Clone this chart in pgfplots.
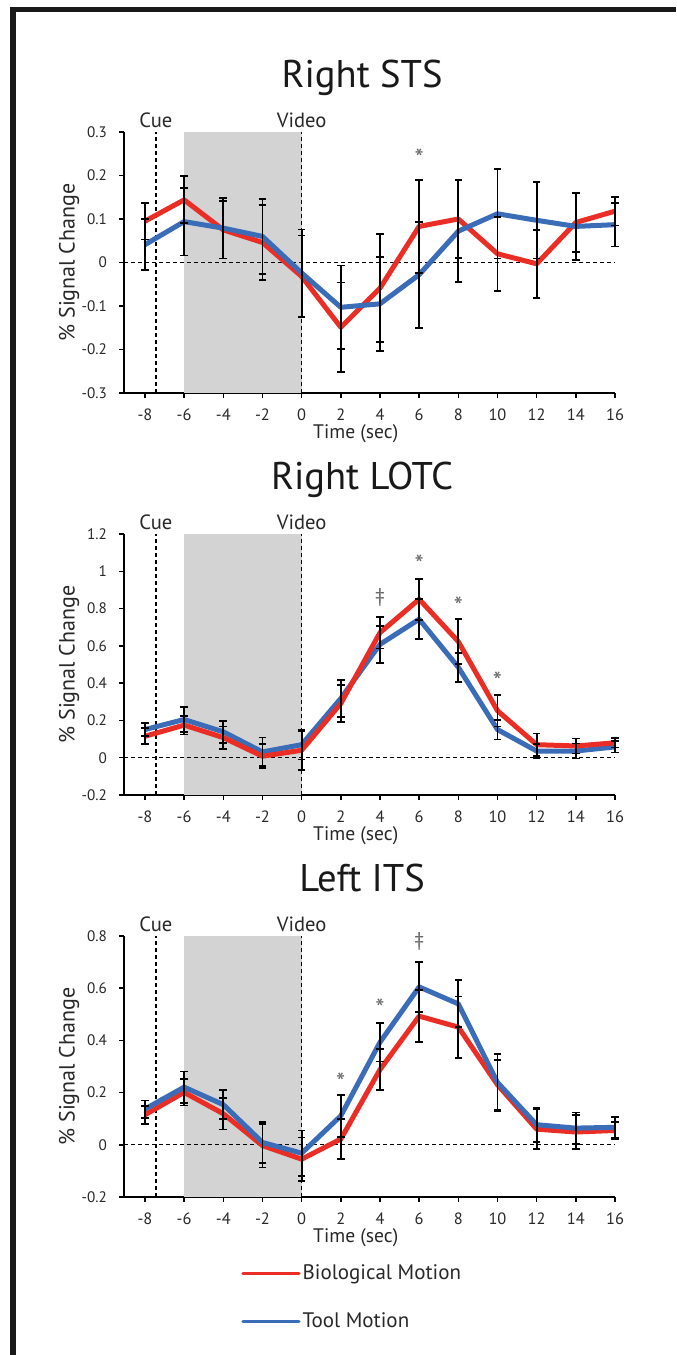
\documentclass[border=0pt]{standalone}
\usepackage{fontspec}
\setmainfont{PT Sans}
\usepackage{pgfplots}
\usepackage{pgfplotstable}
\pgfplotsset{compat=1.18}

\definecolor{bio}{RGB}{234,46,38}
\definecolor{tool}{RGB}{58,108,184}
\definecolor{shade}{RGB}{211,211,211}
\definecolor{ink}{RGB}{40,40,40}

% x = time, b/be = biological motion mean/error, t/te = tool motion mean/error
\pgfplotstableread{
x   b      be     t      te
-8  0.095  0.042  0.041  0.059
-6  0.144  0.054  0.094  0.078
-4  0.075  0.066  0.079  0.070
-2  0.046  0.087  0.060  0.086
0   -0.032 0.094  -0.024 0.100
2   -0.149 0.103  -0.103 0.096
4   -0.059 0.124  -0.095 0.108
6   0.083  0.107  -0.028 0.122
8   0.100  0.089  0.072  0.117
10  0.020  0.085  0.112  0.103
12  -0.003 0.078  0.097  0.088
14  0.092  0.068  0.083  0.078
16  0.118  0.033  0.087  0.050
}\sts

\pgfplotstableread{
x   b      be     t      te
-8  0.115  0.043  0.151  0.036
-6  0.175  0.050  0.205  0.065
-4  0.108  0.060  0.139  0.060
-2  0.008  0.065  0.031  0.077
0   0.040  0.105  0.070  0.080
2   0.291  0.100  0.318  0.100
4   0.671  0.085  0.608  0.100
6   0.850  0.110  0.743  0.108
8   0.623  0.120  0.485  0.078
10  0.252  0.084  0.151  0.053
12  0.070  0.060  0.036  0.036
14  0.063  0.040  0.036  0.040
16  0.080  0.025  0.058  0.030
}\lotc

\pgfplotstableread{
x   b      be     t      te
-8  0.115  0.035  0.137  0.033
-6  0.201  0.050  0.221  0.060
-4  0.119  0.060  0.154  0.055
-2  -0.003 0.084  0.009  0.078
0   -0.055 0.083  -0.032 0.087
2   0.022  0.076  0.111  0.081
4   0.288  0.079  0.393  0.074
6   0.493  0.100  0.605  0.096
8   0.451  0.117  0.540  0.090
10  0.230  0.095  0.239  0.110
12  0.060  0.075  0.077  0.065
14  0.049  0.065  0.064  0.060
16  0.055  0.033  0.067  0.040
}\its

\pgfplotsset{
  roi/.style={
    scale only axis, width=245.5pt, height=130.5pt,
    xmin=-9.07, xmax=16,
    axis x line*=bottom, axis y line*=left,
    axis line style={black, line width=0.75pt},
    xtick={-8,-6,...,16},
    tick align=outside, major tick length=2.5pt,
    tick style={black, line width=0.75pt},
    /pgf/number format/assume math mode=true,
    xticklabel style={font=\fontsize{8.2}{9}\selectfont, text=ink, inner sep=0.8pt, yshift=-4.3pt},
    yticklabel style={font=\fontsize{7.6}{8}\selectfont, text=ink, xshift=-2.5pt},
    xlabel={Time (sec)}, ylabel={\% Signal Change},
    xlabel style={font=\fontsize{9.8}{11}\selectfont, text=ink, inner sep=0pt, at={(axis description cs:0.472,0)}, anchor=base, yshift=-22.5pt},
    ylabel style={font=\fontsize{11}{12}\selectfont, text=ink, at={(axis description cs:-0.112,0.5)}, anchor=center},
    title style={font=\fontsize{19.3}{22}\selectfont, text=black!90, at={(axis description cs:0.485,1)}, anchor=base, yshift=16.5pt},
    clip=false,
  },
  dashline/.style={forget plot, black, line width=0.6pt, dash pattern=on 2pt off 1.5pt},
  bioline/.style={color=bio, line width=2.5pt, line join=round, mark=none},
  toolline/.style={color=tool, line width=2.5pt, line join=round, mark=none},
  errs/.style={forget plot, draw=none, mark=none,
    error bars/.cd, y dir=both, y explicit,
    error bar style={draw=black, line width=0.9pt},
    error mark options={rotate=90, draw=black, mark size=1.9pt, line width=0.9pt}},
}
\tikzset{
  lbl/.style={font=\fontsize{10.3}{11}\selectfont, text=ink, anchor=base, yshift=2.5pt},
  sig/.style={font=\fontsize{13}{14}\selectfont, text=black!60, anchor=base, yshift=-6pt},
  dag/.style={font=\fontsize{10}{11}\selectfont, text=black!60, anchor=base, yshift=-3.5pt},
}

\begin{document}
\begin{tikzpicture}
\useasboundingbox (0,0) rectangle (338pt,-677.5pt);
\fill[black!90] (5pt,-3.5pt) rectangle (338pt,-6pt);
\fill[black!90] (5pt,-3.5pt) rectangle (8pt,-677.5pt);

% ---------- Right STS ----------
\begin{axis}[roi, at={(62pt,-196.5pt)}, anchor=south west,
  title={Right STS},
  ymin=-0.3, ymax=0.3, ytick={-0.3,-0.2,-0.1,0,0.1,0.2,0.3}]
\addplot[forget plot, fill=shade, draw=none] coordinates {(-6,-0.3) (0,-0.3) (0,0.3) (-6,0.3)};
\addplot[dashline] coordinates {(-9.07,0) (16,0)};
\addplot[dashline] coordinates {(-7.44,-0.3) (-7.44,0.3)};
\addplot[dashline] coordinates {(0,-0.3) (0,0.3)};
\addplot[bioline] table[x=x, y=b] {\sts};
\addplot[toolline] table[x=x, y=t] {\sts};
\addplot[errs] table[x=x, y=b, y error=be] {\sts};
\addplot[errs] table[x=x, y=t, y error=te] {\sts};
\node[lbl] at (axis cs:-7.44,0.3) {Cue};
\node[lbl] at (axis cs:0,0.3) {Video};
\node[sig] at (axis cs:6,0.246) {*};
\end{axis}

% ---------- Right LOTC ----------
\begin{axis}[roi, at={(62pt,-397.5pt)}, anchor=south west,
  title={Right LOTC},
  ymin=-0.2, ymax=1.2, ytick={-0.2,0,0.2,0.4,0.6,0.8,1,1.2}]
\addplot[forget plot, fill=shade, draw=none] coordinates {(-6,-0.2) (0,-0.2) (0,1.2) (-6,1.2)};
\addplot[dashline] coordinates {(-9.07,0) (16,0)};
\addplot[dashline] coordinates {(-7.44,-0.2) (-7.44,1.2)};
\addplot[dashline] coordinates {(0,-0.2) (0,1.2)};
\addplot[toolline] table[x=x, y=t] {\lotc};
\addplot[bioline] table[x=x, y=b] {\lotc};
\addplot[errs] table[x=x, y=b, y error=be] {\lotc};
\addplot[errs] table[x=x, y=t, y error=te] {\lotc};
\node[lbl] at (axis cs:-7.44,1.2) {Cue};
\node[lbl] at (axis cs:0,1.2) {Video};
\node[dag] at (axis cs:4,0.868) {‡};
\node[sig] at (axis cs:6,1.053) {*};
\node[sig] at (axis cs:8,0.829) {*};
\node[sig] at (axis cs:10,0.426) {*};
\end{axis}

% ---------- Left ITS ----------
\begin{axis}[roi, at={(62pt,-598.5pt)}, anchor=south west,
  title={Left ITS},
  ymin=-0.2, ymax=0.8, ytick={-0.2,0,0.2,0.4,0.6,0.8},
  legend style={at={(axis description cs:0.238,0)}, anchor=north west, yshift=-31.5pt,
    draw=none, fill=none, inner sep=0pt, row sep=11pt,
    font=\fontsize{10.5}{12}\selectfont, text=ink,
    nodes={inner xsep=1pt}},
  legend cell align=left,
  legend image code/.code={\draw[#1, line width=1.7pt, line cap=round] (0pt,0pt) -- (28pt,0pt);}]
\addplot[forget plot, fill=shade, draw=none] coordinates {(-6,-0.2) (0,-0.2) (0,0.8) (-6,0.8)};
\addplot[dashline] coordinates {(-9.07,0) (16,0)};
\addplot[dashline] coordinates {(-7.44,-0.2) (-7.44,0.8)};
\addplot[dashline] coordinates {(0,-0.2) (0,0.8)};
\addplot[bioline] table[x=x, y=b] {\its};
\addlegendentry{Biological Motion}
\addplot[toolline] table[x=x, y=t] {\its};
\addlegendentry{Tool Motion}
\addplot[errs] table[x=x, y=b, y error=be] {\its};
\addplot[errs] table[x=x, y=t, y error=te] {\its};
\node[lbl] at (axis cs:-7.44,0.8) {Cue};
\node[lbl] at (axis cs:0,0.8) {Video};
\node[sig] at (axis cs:2,0.25) {*};
\node[sig] at (axis cs:4,0.534) {*};
\node[dag] at (axis cs:6,0.785) {‡};
\end{axis}
\end{tikzpicture}
\end{document}
